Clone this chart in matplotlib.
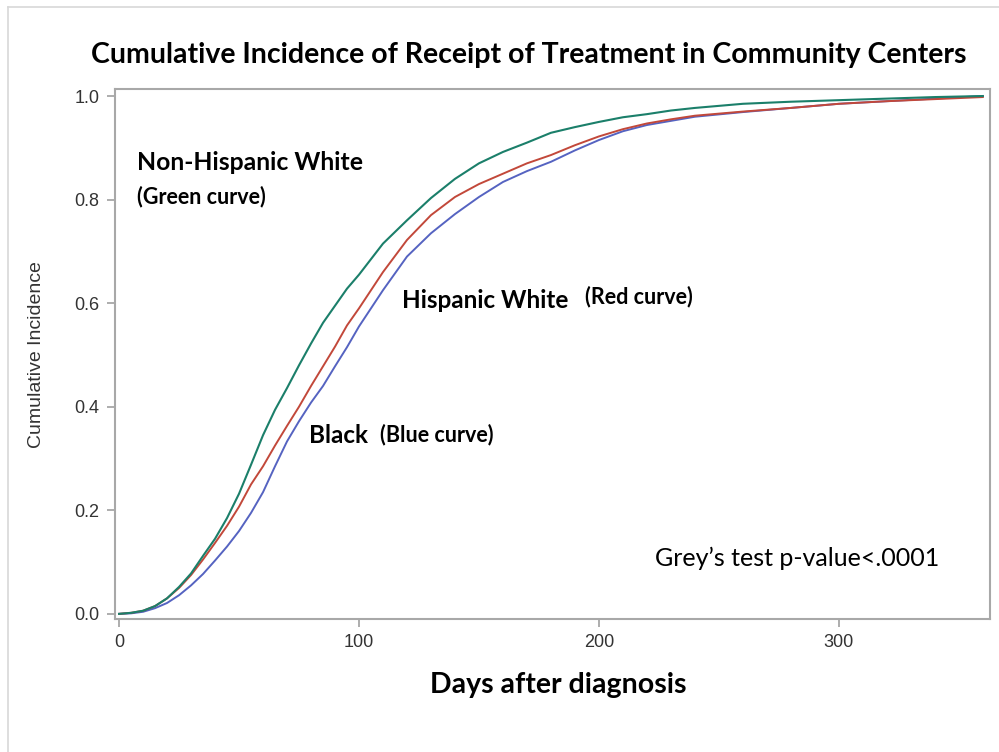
import matplotlib
matplotlib.use("Agg")
import matplotlib.pyplot as plt
from matplotlib.lines import Line2D

# values
days = [0, 5, 10, 15, 20, 25, 30, 35, 40, 45, 50, 55, 60, 65, 70, 75, 80, 85,
        90, 95, 100, 110, 120, 130, 140, 150, 160, 170, 180, 190, 200, 210,
        220, 230, 240, 260, 280, 300, 320, 340, 360]

green_nhw = [0.0, 0.002, 0.006, 0.015, 0.030, 0.052, 0.078, 0.112, 0.145, 0.185,
             0.232, 0.288, 0.345, 0.394, 0.436, 0.480, 0.522, 0.562, 0.595, 0.628,
             0.655, 0.715, 0.760, 0.803, 0.840, 0.870, 0.892, 0.910, 0.929, 0.940,
             0.950, 0.959, 0.965, 0.972, 0.977, 0.985, 0.989, 0.992, 0.995, 0.998,
             1.0]

red_hw = [0.0, 0.002, 0.006, 0.015, 0.030, 0.050, 0.075, 0.105, 0.137, 0.170,
          0.207, 0.250, 0.285, 0.325, 0.363, 0.400, 0.440, 0.478, 0.516, 0.557,
          0.590, 0.660, 0.722, 0.770, 0.805, 0.830, 0.850, 0.870, 0.886, 0.905,
          0.922, 0.936, 0.947, 0.955, 0.962, 0.970, 0.977, 0.985, 0.990, 0.994,
          0.998]

blue_black = [0.0, 0.001, 0.004, 0.011, 0.021, 0.036, 0.055, 0.077, 0.103, 0.130,
              0.160, 0.195, 0.235, 0.285, 0.333, 0.372, 0.408, 0.440, 0.478, 0.515,
              0.555, 0.625, 0.690, 0.735, 0.772, 0.805, 0.834, 0.855, 0.873, 0.895,
              0.915, 0.932, 0.944, 0.952, 0.960, 0.969, 0.977, 0.985, 0.990, 0.995,
              1.0]

x_ticks = [0, 100, 200, 300]
y_ticks = [0.0, 0.2, 0.4, 0.6, 0.8, 1.0]

TITLE_FONT = ["Lato", "DejaVu Sans"]
TICK_FONT = ["Liberation Sans", "DejaVu Sans"]

fig = plt.figure(figsize=(9.99, 7.52), dpi=100)
ax = fig.add_axes([0.1151, 0.1775, 0.8759, 0.7041])

ax.plot(days, blue_black, color="#5563c1", lw=1.4)
ax.plot(days, red_hw, color="#c2483a", lw=1.4)
ax.plot(days, green_nhw, color="#1b7f6a", lw=1.5)

ax.set_xlim(-1.7, 363)
ax.set_ylim(-0.009, 1.0135)
ax.set_xticks(x_ticks)
ax.set_yticks(y_ticks)
ax.set_xticklabels([str(t) for t in x_ticks], family=TICK_FONT, fontsize=13, color="#333333")
ax.set_yticklabels([f"{t:.1f}" for t in y_ticks], family=TICK_FONT, fontsize=13, color="#333333")
ax.tick_params(direction="out", length=6, width=1.2, color="#a0a0a0", pad=5)
for sp in ax.spines.values():
    sp.set_color("#a8a8a8")
    sp.set_linewidth(1.5)

# curve labels
ax.text(7.5, 0.871, "Non-Hispanic White", family=TITLE_FONT, fontweight="bold",
        fontsize=17.8, va="center", ha="left")
ax.text(7.5, 0.805, "(Green curve)", family=TITLE_FONT, fontweight="bold",
        fontsize=15.5, va="center", ha="left")
ax.text(117.9, 0.606, "Hispanic White", family=TITLE_FONT, fontweight="bold",
        fontsize=17.5, va="center", ha="left")
ax.text(194, 0.612, "(Red curve)", family=TITLE_FONT, fontweight="bold",
        fontsize=15.5, va="center", ha="left")
ax.text(79.2, 0.344, "Black", family=TITLE_FONT, fontweight="bold",
        fontsize=17.5, va="center", ha="left")
ax.text(108.75, 0.347, "(Blue curve)", family=TITLE_FONT, fontweight="bold",
        fontsize=15.5, va="center", ha="left")
ax.text(223.3, 0.108, "Grey\u2019s test p-value<.0001", family=TITLE_FONT,
        fontsize=18, va="center", ha="left")

fig.text(0.529, 0.927, "Cumulative Incidence of Receipt of Treatment in Community Centers",
         family=TITLE_FONT, fontweight="bold", fontsize=20.5, ha="center", va="center")
fig.text(0.559, 0.089, "Days after diagnosis", family=TITLE_FONT, fontweight="bold",
         fontsize=20.5, ha="center", va="center")
fig.text(0.037, 0.529, "Cumulative Incidence", family=TICK_FONT, fontsize=14,
         rotation=90, ha="center", va="center", color="#333333")

# outer frame of the original figure (cut off on right and bottom)
fig.add_artist(Line2D([0.008, 0.008], [0.0, 0.991], transform=fig.transFigure,
                      color="#d8d8d8", lw=1.2))
fig.add_artist(Line2D([0.008, 1.0], [0.991, 0.991], transform=fig.transFigure,
                      color="#d8d8d8", lw=1.2))

fig.savefig("out.png", dpi=100)
